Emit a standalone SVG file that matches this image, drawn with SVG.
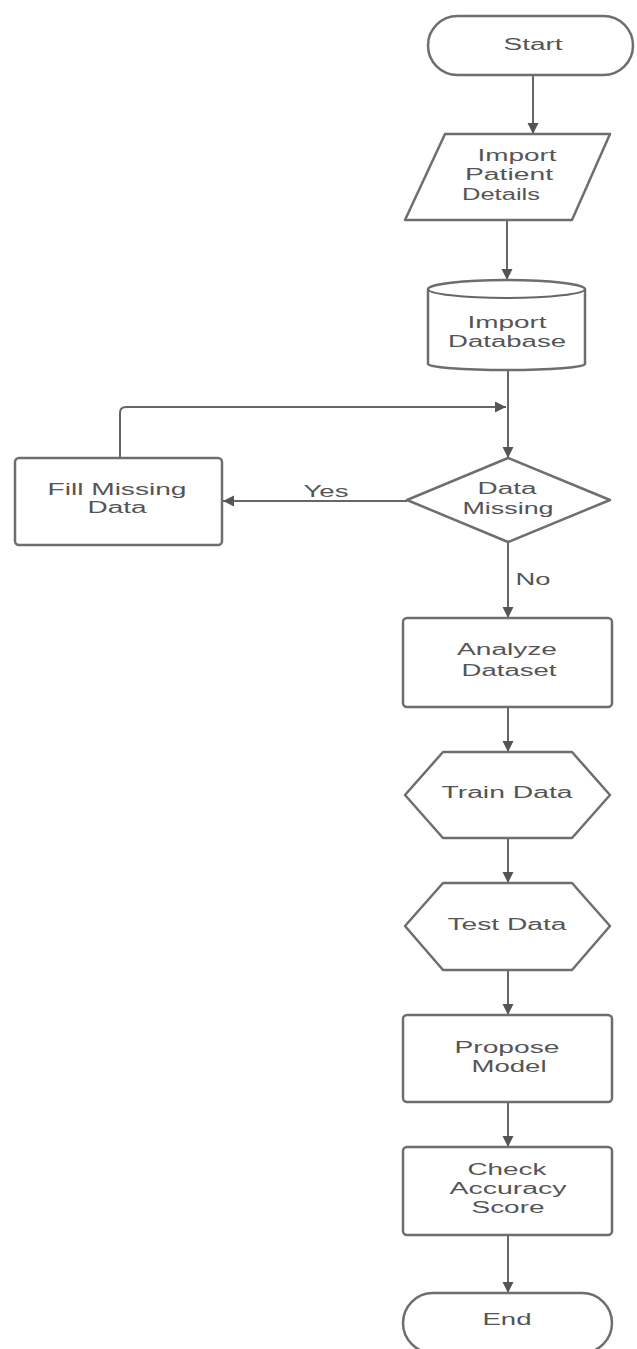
<svg xmlns="http://www.w3.org/2000/svg" width="637" height="1349" viewBox="0 0 637 1349">
<style>
.n{fill:#fff;stroke:#6e6e6e;stroke-width:2.5;stroke-linejoin:round}
.c{fill:none;stroke:#666;stroke-width:2}
.t{font-family:"Liberation Sans",Arial,sans-serif;font-size:16px;fill:#555;text-anchor:middle}
</style>
<defs>
<marker id="a" markerUnits="userSpaceOnUse" markerWidth="12" markerHeight="12" refX="11" refY="6" orient="auto">
<path d="M0,0.5 L11,6 L0,11.5 z" fill="#555"/>
</marker>
</defs>
<rect width="637" height="1349" fill="#fff"/>
<g id="connectors">
<line class="c" x1="533" y1="75" x2="533" y2="134" marker-end="url(#a)"/>
<line class="c" x1="507" y1="220" x2="507" y2="280" marker-end="url(#a)"/>
<line class="c" x1="508" y1="370" x2="508" y2="458" marker-end="url(#a)"/>
<path class="c" d="M120,458 L120,413 Q120,407 126,407 L506,407" marker-end="url(#a)"/>
<line class="c" x1="407" y1="501" x2="223" y2="501" marker-end="url(#a)"/>
<text class="t" x="326" y="497" textLength="45" lengthAdjust="spacingAndGlyphs">Yes</text>
<line class="c" x1="508" y1="542" x2="508" y2="618" marker-end="url(#a)"/>
<text class="t" x="533" y="585" textLength="35" lengthAdjust="spacingAndGlyphs">No</text>
<line class="c" x1="508" y1="707" x2="508" y2="752" marker-end="url(#a)"/>
<line class="c" x1="508" y1="838" x2="508" y2="883" marker-end="url(#a)"/>
<line class="c" x1="508" y1="970" x2="508" y2="1015" marker-end="url(#a)"/>
<line class="c" x1="508" y1="1102" x2="508" y2="1147" marker-end="url(#a)"/>
<line class="c" x1="508" y1="1235" x2="508" y2="1293" marker-end="url(#a)"/>
</g>
<g id="start">
<rect class="n" x="428" y="16" width="205" height="59" rx="29.5"/>
<text class="t" x="533" y="50" textLength="59" lengthAdjust="spacingAndGlyphs">Start</text>
</g>
<g id="import-patient">
<polygon class="n" points="445,134 610,134 572,220 405,220"/>
<text class="t" x="517" y="161" textLength="79" lengthAdjust="spacingAndGlyphs">Import</text>
<text class="t" x="509" y="180" textLength="88" lengthAdjust="spacingAndGlyphs">Patient</text>
<text class="t" x="501" y="200" textLength="78" lengthAdjust="spacingAndGlyphs">Details</text>
</g>
<g id="import-db">
<path class="n" d="M428,289 A78.5,9 0 0 1 585,289 L585,364 A78.5,6 0 0 1 428,364 Z"/>
<path class="c" stroke="#6e6e6e" stroke-width="2.5" d="M428,289 A78.5,9 0 0 0 585,289"/>
<text class="t" x="507" y="328" textLength="79" lengthAdjust="spacingAndGlyphs">Import</text>
<text class="t" x="507" y="347" textLength="118" lengthAdjust="spacingAndGlyphs">Database</text>
</g>
<g id="fill-missing">
<rect class="n" x="15" y="458" width="207" height="87" rx="4"/>
<text class="t" x="117" y="495" textLength="139" lengthAdjust="spacingAndGlyphs">Fill Missing</text>
<text class="t" x="117" y="513" textLength="59" lengthAdjust="spacingAndGlyphs">Data</text>
</g>
<g id="data-missing">
<polygon class="n" points="508,458 610,500 508,542 407,500"/>
<text class="t" x="507" y="494" textLength="59" lengthAdjust="spacingAndGlyphs">Data</text>
<text class="t" x="508" y="514" textLength="91" lengthAdjust="spacingAndGlyphs">Missing</text>
</g>
<g id="analyze">
<rect class="n" x="403" y="618" width="209" height="89" rx="4"/>
<text class="t" x="507" y="655" textLength="100" lengthAdjust="spacingAndGlyphs">Analyze</text>
<text class="t" x="509" y="676" textLength="95" lengthAdjust="spacingAndGlyphs">Dataset</text>
</g>
<g id="train">
<polygon class="n" points="443,752 572,752 610,795 572,838 443,838 405,795"/>
<text class="t" x="507" y="798" textLength="131" lengthAdjust="spacingAndGlyphs">Train Data</text>
</g>
<g id="test">
<polygon class="n" points="443,883 572,883 610,926 572,970 443,970 405,926"/>
<text class="t" x="507" y="930" textLength="119" lengthAdjust="spacingAndGlyphs">Test Data</text>
</g>
<g id="propose">
<rect class="n" x="403" y="1015" width="209" height="87" rx="4"/>
<text class="t" x="507" y="1053" textLength="105" lengthAdjust="spacingAndGlyphs">Propose</text>
<text class="t" x="509" y="1072" textLength="75" lengthAdjust="spacingAndGlyphs">Model</text>
</g>
<g id="check">
<rect class="n" x="403" y="1147" width="209" height="88" rx="4"/>
<text class="t" x="507" y="1175" textLength="79" lengthAdjust="spacingAndGlyphs">Check</text>
<text class="t" x="508" y="1194" textLength="117" lengthAdjust="spacingAndGlyphs">Accuracy</text>
<text class="t" x="508" y="1213" textLength="73" lengthAdjust="spacingAndGlyphs">Score</text>
</g>
<g id="end">
<rect class="n" x="403" y="1293" width="209" height="60" rx="30"/>
<text class="t" x="507" y="1325" textLength="49" lengthAdjust="spacingAndGlyphs">End</text>
</g>
</svg>
